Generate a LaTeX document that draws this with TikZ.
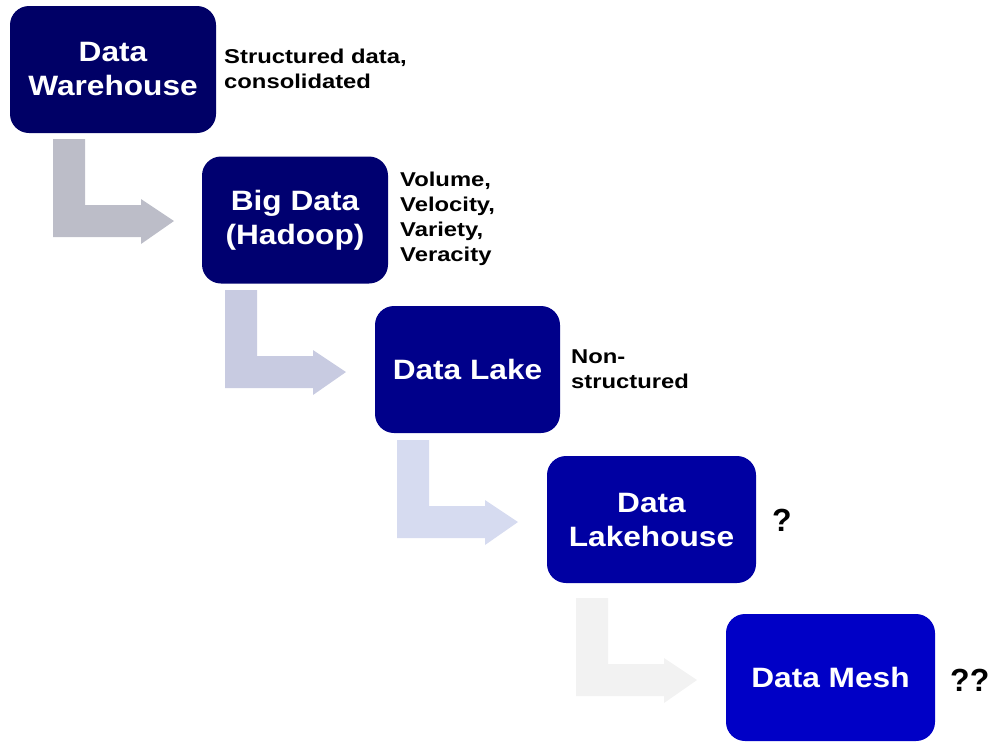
\documentclass[tikz,border=0pt]{standalone}
\usepackage{fontspec}
\setmainfont{Liberation Sans}
\newfontfamily\stagefont{Liberation Sans}[FakeStretch=1.13]
\newfontfamily\notefont{Liberation Sans}[FakeStretch=1.19]
\definecolor{boxA}{HTML}{000066}
\definecolor{boxB}{HTML}{000070}
\definecolor{boxC}{HTML}{00008A}
\definecolor{boxD}{HTML}{0000A2}
\definecolor{boxE}{HTML}{0000C6}
\definecolor{arrA}{HTML}{BCBDC8}
\definecolor{arrB}{HTML}{C8CBE1}
\definecolor{arrC}{HTML}{D6DBF0}
\definecolor{arrD}{HTML}{F2F2F2}
\newcommand\bentarrow[3]{%
  \fill[#3] (#1,#2) -- ++(32,0) -- ++(0,66) -- ++(56,0) -- ++(0,-6)
    -- ++(33,22) -- ++(-33,23) -- ++(0,-7) -- ++(-88,0) -- cycle;}
\tikzset{
  stage/.style={rectangle, rounded corners=19pt, inner sep=0pt, text=white,
    align=center, font=\stagefont\fontsize{28}{34}\selectfont\bfseries,
    minimum height=127pt},
  note/.style={anchor=west, align=left, inner sep=0pt,
    font=\notefont\fontsize{20}{25}\selectfont\bfseries},
  qmark/.style={anchor=west, inner sep=0pt, font=\fontsize{32}{36}\selectfont\bfseries}
}
\begin{document}
\begin{tikzpicture}[x=1pt,y=-1pt]
\useasboundingbox (0,0) rectangle (992,742);
\bentarrow{53}{139}{arrA}
\bentarrow{225}{290}{arrB}
\bentarrow{397}{440}{arrC}
\bentarrow{576}{598}{arrD}
\node[stage, fill=boxA, minimum width=206pt] (dw) at (113,69.5) {Data\\Warehouse};
\node[stage, fill=boxB, minimum width=186pt] (bd) at (295,220) {Big Data\\(Hadoop)};
\node[stage, fill=boxC, minimum width=185pt] (dl) at (467.5,369.5) {Data Lake};
\node[stage, fill=boxD, minimum width=209pt] (lh) at (651.5,519.5) {Data\\Lakehouse};
\node[stage, fill=boxE, minimum width=209pt] (dm) at (830.5,677.5) {Data Mesh};
\node[note] (n1) at (224,69) {Structured data,\\consolidated};
\node[note] (n2) at (400,219) {Volume,\\Velocity,\\Variety,\\Veracity};
\node[note] (n3) at (571,369) {Non-\\structured};
\node[qmark] (q1) at (772,520) {?};
\node[qmark] (q2) at (950,680) {??};
\end{tikzpicture}
\end{document}
